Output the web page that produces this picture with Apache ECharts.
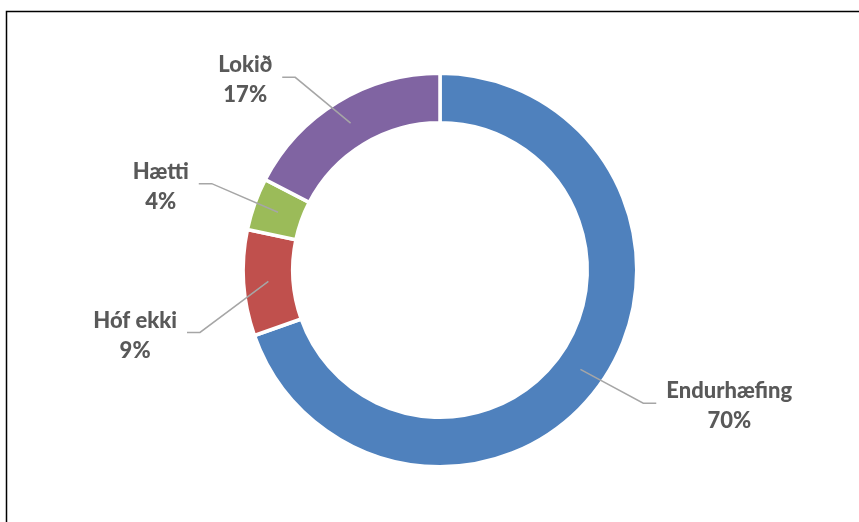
<!DOCTYPE html>
<html>
<head>
<meta charset="utf-8">
<script src="https://cdn.jsdelivr.net/npm/echarts@6/dist/echarts.min.js"></script>
<style>
html,body{margin:0;padding:0;background:#fff;}
#chart{width:859px;height:522px;}
</style>
</head>
<body>
<div id="chart"></div>
<script>
// Data (shares in percent; labels show rounded values)
const categories = ['Endurhæfing', 'Hóf ekki', 'Hætti', 'Lokið'];
const values = [69.6, 8.7, 4.3, 17.4];
const colors = ['#4F81BD', '#C0504D', '#9BBB59', '#8064A2'];

// Layout parameters (not data)
const CX = 440, CY = 270, R_IN = 149, R_OUT = 195;
const BORDER = 3.5;
const R_MID = (R_IN + R_OUT) / 2;
const elbowRadius = [243, 248, 244, 241];
const elbowAngleTweak = [-2.05, -10.8, 1.1, -5.6];
const STUB = 13, GAP = 10;

const total = values.reduce((a, b) => a + b, 0);
const midAngles = [];
(function () {
  let acc = 0;
  values.forEach(v => { midAngles.push((acc + v / 2) / total * 360); acc += v; });
})();

const chart = echarts.init(document.getElementById('chart'), null, { renderer: 'canvas' });

function polar(r, deg) {
  const a = deg * Math.PI / 180;
  return [CX + r * Math.sin(a), CY - r * Math.cos(a)];
}

const baseSeries = {
  type: 'pie',
  center: [CX, CY],
  startAngle: 90,
  clockwise: true,
  avoidLabelOverlap: false,
  percentPrecision: 0,
  emphasis: { disabled: true }
};

chart.setOption({
  animation: false,
  backgroundColor: '#ffffff',
  graphic: [{
    type: 'rect',
    shape: { x: 6.5, y: 11.5, width: 900, height: 600 },
    style: { fill: 'none', stroke: '#000000', lineWidth: 1.5 },
    silent: true,
    z: 100
  }],
  series: [
    Object.assign({}, baseSeries, {
      z: 2,
      radius: [R_IN - BORDER / 2, R_OUT + BORDER / 2],
      itemStyle: { borderColor: '#ffffff', borderWidth: BORDER },
      label: { show: false },
      labelLine: { show: false },
      data: categories.map((c, i) => ({ name: c, value: values[i], itemStyle: { color: colors[i] } }))
    }),
    Object.assign({}, baseSeries, {
      z: 5,
      silent: true,
      radius: [R_IN, R_OUT],
      itemStyle: { color: 'rgba(0,0,0,0)', borderWidth: 0 },
      label: {
        show: true,
        position: 'outside',
        formatter: '{b}\n{d}%',
        fontFamily: 'Lato',
        fontWeight: 900,
        fontSize: 22,
        lineHeight: 30,
        color: '#595959',
        align: 'center'
      },
      labelLine: {
        show: true,
        lineStyle: { color: '#A6A6A6', width: 1.5 }
      },
      labelLayout: function (p) {
        const i = p.dataIndex;
        const start = polar(R_MID, midAngles[i]);
        const elbow = polar(elbowRadius[i], midAngles[i] + elbowAngleTweak[i]);
        const right = Math.sin(midAngles[i] * Math.PI / 180) > 0;
        const tx = elbow[0] + (right ? STUB : -STUB);
        const w = p.labelRect.width;
        const lx = tx + (right ? GAP + w / 2 : -GAP - w / 2);
        return {
          x: lx,
          y: elbow[1] + 3,
          align: 'center',
          verticalAlign: 'middle',
          labelLinePoints: [start, elbow, [tx, elbow[1]]]
        };
      },
      data: categories.map((c, i) => ({ name: c, value: values[i] }))
    })
  ]
});
</script>
</body>
</html>
